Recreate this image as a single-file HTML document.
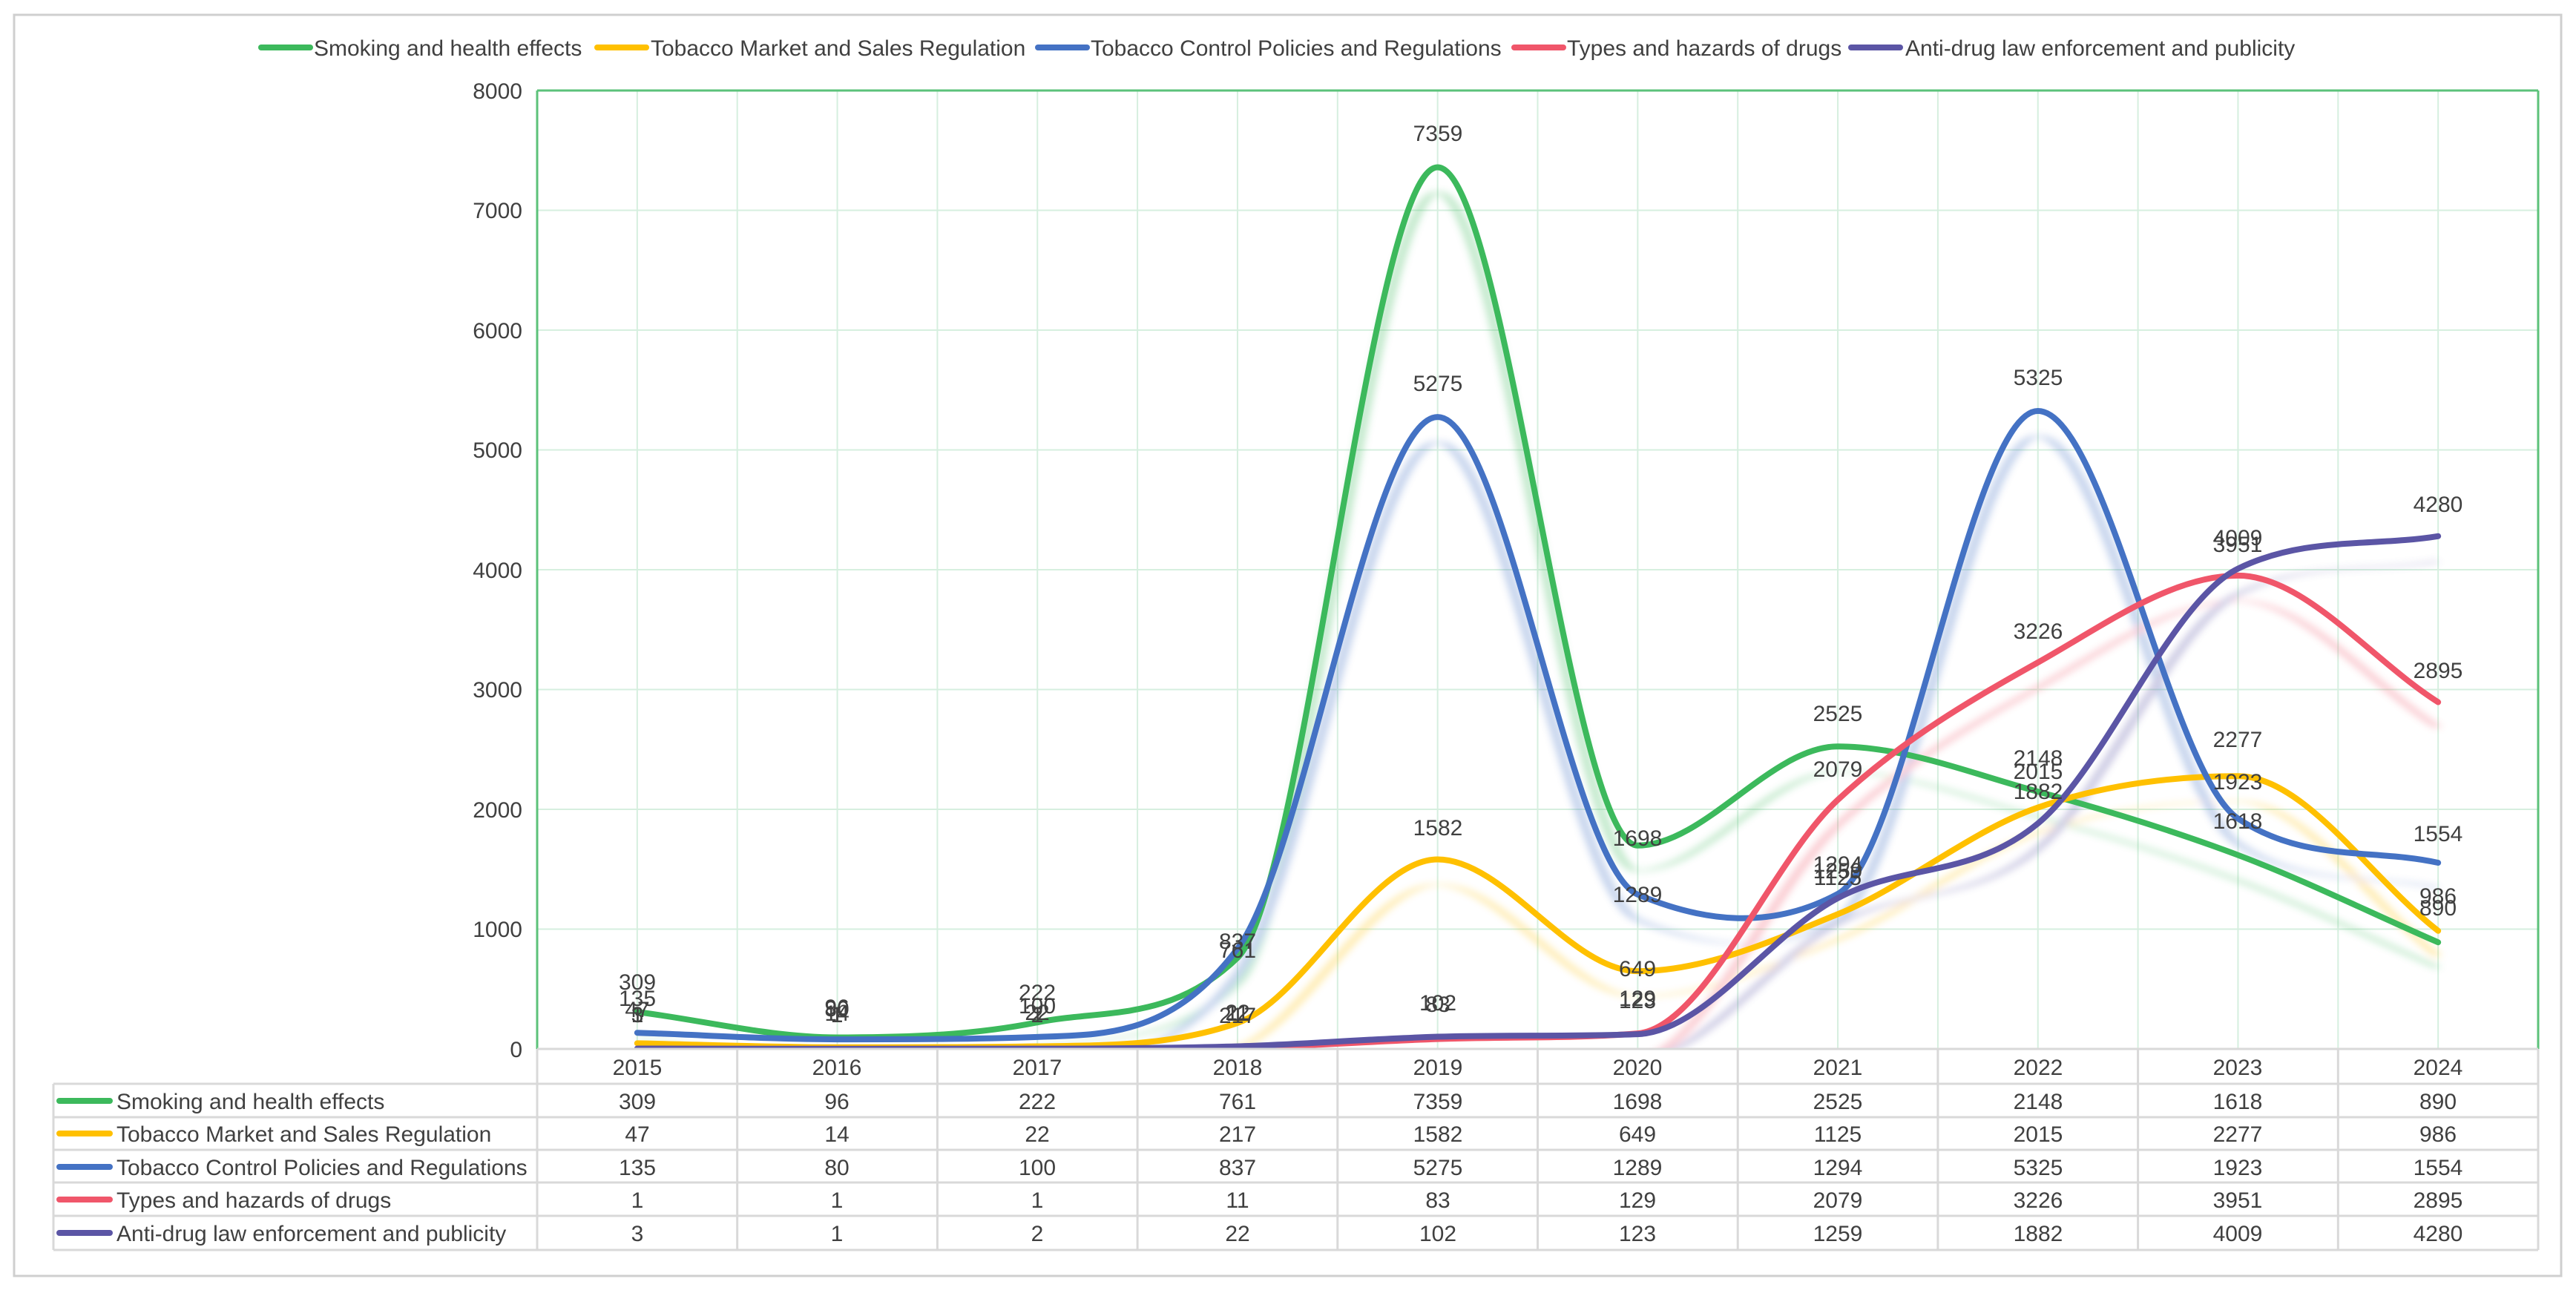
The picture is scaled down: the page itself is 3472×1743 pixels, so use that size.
<!DOCTYPE html>
<html><head><meta charset="utf-8">
<style>
html,body{margin:0;padding:0;background:#fff;}
svg{display:block;font-family:"Liberation Sans","Noto Sans CJK SC",sans-serif;}
</style></head>
<body>
<svg width="3472" height="1743" viewBox="0 0 3472 1743" xmlns="http://www.w3.org/2000/svg">
<defs>
<clipPath id="pc"><rect x="724" y="122" width="2697" height="1293"/></clipPath>
<filter id="bl" x="-5%" y="-5%" width="110%" height="110%"><feGaussianBlur stdDeviation="5"/></filter>
<path id="pG" d="M858.85,309 C948.75,238 1038.65,96 1128.55,96 C1218.45,96 1308.35,111.2 1398.25,222 C1488.15,332.8 1578.05,222 1667.95,761 C1757.85,1300 1847.75,7359 1937.65,7359 C2027.55,7359 2117.45,1698 2207.35,1698 C2297.25,1698 2387.15,2525 2477.05,2525 C2566.95,2525 2656.85,2299.2 2746.75,2148 C2836.65,1996.8 2926.55,1827.7 3016.45,1618 C3106.35,1408.3 3196.25,1132.7 3286.15,890"/>
<path id="pY" d="M858.85,47 C948.75,36 1038.65,14 1128.55,14 C1218.45,14 1308.35,14 1398.25,22 C1488.15,30 1578.05,22 1667.95,217 C1757.85,412 1847.75,1582 1937.65,1582 C2027.55,1582 2117.45,649 2207.35,649 C2297.25,649 2387.15,897.3 2477.05,1125 C2566.95,1352.7 2656.85,1823 2746.75,2015 C2836.65,2207 2926.55,2277 3016.45,2277 C3106.35,2277 3196.25,1416.3 3286.15,986"/>
<path id="pB" d="M858.85,135 C948.75,116.7 1038.65,80 1128.55,80 C1218.45,80 1308.35,80 1398.25,100 C1488.15,120 1578.05,100 1667.95,837 C1757.85,1574 1847.75,5275 1937.65,5275 C2027.55,5275 2117.45,1522.3 2207.35,1289 C2297.25,1055.7 2387.15,994 2477.05,1294 C2566.95,1594 2656.85,5325 2746.75,5325 C2836.65,5325 2926.55,2292 3016.45,1923 C3106.35,1554 3196.25,1677 3286.15,1554"/>
<path id="pR" d="M858.85,1 C948.75,1 1038.65,1 1128.55,1 C1218.45,1 1308.35,1 1398.25,1 C1488.15,1 1578.05,1 1667.95,11 C1757.85,21 1847.75,63.3 1937.65,83 C2027.55,102.7 2117.45,83 2207.35,129 C2297.25,175 2387.15,1563 2477.05,2079 C2566.95,2595 2656.85,2914 2746.75,3226 C2836.65,3538 2926.55,3951 3016.45,3951 C3106.35,3951 3196.25,3247 3286.15,2895"/>
<path id="pP" d="M858.85,3 C948.75,2.3 1038.65,1 1128.55,1 C1218.45,1 1308.35,1 1398.25,2 C1488.15,3 1578.05,5.3 1667.95,22 C1757.85,38.7 1847.75,85.2 1937.65,102 C2027.55,118.8 2117.45,102 2207.35,123 C2297.25,144 2387.15,965.8 2477.05,1259 C2566.95,1552.2 2656.85,1423.7 2746.75,1882 C2836.65,2340.3 2926.55,3738 3016.45,4009 C3106.35,4280 3196.25,4189.7 3286.15,4280"/>
</defs>
<rect x="19" y="20" width="3433" height="1700" fill="#fff" stroke="#cfcfcf" stroke-width="3"/>
<g stroke="#d6efdf" stroke-width="2">
<line x1="858.85" y1="122" x2="858.85" y2="1414"/><line x1="993.7" y1="122" x2="993.7" y2="1414"/><line x1="1128.55" y1="122" x2="1128.55" y2="1414"/><line x1="1263.4" y1="122" x2="1263.4" y2="1414"/><line x1="1398.25" y1="122" x2="1398.25" y2="1414"/><line x1="1533.1" y1="122" x2="1533.1" y2="1414"/><line x1="1667.95" y1="122" x2="1667.95" y2="1414"/><line x1="1802.8" y1="122" x2="1802.8" y2="1414"/><line x1="1937.65" y1="122" x2="1937.65" y2="1414"/><line x1="2072.5" y1="122" x2="2072.5" y2="1414"/><line x1="2207.35" y1="122" x2="2207.35" y2="1414"/><line x1="2342.2" y1="122" x2="2342.2" y2="1414"/><line x1="2477.05" y1="122" x2="2477.05" y2="1414"/><line x1="2611.9" y1="122" x2="2611.9" y2="1414"/><line x1="2746.75" y1="122" x2="2746.75" y2="1414"/><line x1="2881.6" y1="122" x2="2881.6" y2="1414"/><line x1="3016.45" y1="122" x2="3016.45" y2="1414"/><line x1="3151.3" y1="122" x2="3151.3" y2="1414"/><line x1="3286.15" y1="122" x2="3286.15" y2="1414"/>
<line x1="724" y1="1252.5" x2="3421" y2="1252.5"/><line x1="724" y1="1091" x2="3421" y2="1091"/><line x1="724" y1="929.5" x2="3421" y2="929.5"/><line x1="724" y1="768" x2="3421" y2="768"/><line x1="724" y1="606.5" x2="3421" y2="606.5"/><line x1="724" y1="445" x2="3421" y2="445"/><line x1="724" y1="283.5" x2="3421" y2="283.5"/>
</g>
<g clip-path="url(#pc)">
<g filter="url(#bl)" opacity="0.3" fill="none" stroke-width="14">
<g transform="translate(0,1448) scale(1,-0.1615)">
<use href="#pG" stroke="#3cb95c"/>
<use href="#pY" stroke="#ffc000"/>
<use href="#pB" stroke="#4472c4"/>
<use href="#pR" stroke="#f0566a"/>
<use href="#pP" stroke="#5b55a5"/>
</g>
</g>
</g>
<g clip-path="url(#pc)" fill="none" stroke-linejoin="round" stroke-linecap="round">
<g transform="translate(0,1414) scale(1,-0.1615)">
<path d="M858.85,309 C948.75,238 1038.65,96 1128.55,96 C1218.45,96 1308.35,111.2 1398.25,222 C1488.15,332.8 1578.05,222 1667.95,761 C1757.85,1300 1847.75,7359 1937.65,7359 C2027.55,7359 2117.45,1698 2207.35,1698 C2297.25,1698 2387.15,2525 2477.05,2525 C2566.95,2525 2656.85,2299.2 2746.75,2148 C2836.65,1996.8 2926.55,1827.7 3016.45,1618 C3106.35,1408.3 3196.25,1132.7 3286.15,890" stroke="#3cb95c" stroke-width="8" vector-effect="non-scaling-stroke"/>
<path d="M858.85,47 C948.75,36 1038.65,14 1128.55,14 C1218.45,14 1308.35,14 1398.25,22 C1488.15,30 1578.05,22 1667.95,217 C1757.85,412 1847.75,1582 1937.65,1582 C2027.55,1582 2117.45,649 2207.35,649 C2297.25,649 2387.15,897.3 2477.05,1125 C2566.95,1352.7 2656.85,1823 2746.75,2015 C2836.65,2207 2926.55,2277 3016.45,2277 C3106.35,2277 3196.25,1416.3 3286.15,986" stroke="#ffc000" stroke-width="8" vector-effect="non-scaling-stroke"/>
<path d="M858.85,135 C948.75,116.7 1038.65,80 1128.55,80 C1218.45,80 1308.35,80 1398.25,100 C1488.15,120 1578.05,100 1667.95,837 C1757.85,1574 1847.75,5275 1937.65,5275 C2027.55,5275 2117.45,1522.3 2207.35,1289 C2297.25,1055.7 2387.15,994 2477.05,1294 C2566.95,1594 2656.85,5325 2746.75,5325 C2836.65,5325 2926.55,2292 3016.45,1923 C3106.35,1554 3196.25,1677 3286.15,1554" stroke="#4472c4" stroke-width="8" vector-effect="non-scaling-stroke"/>
<path d="M858.85,1 C948.75,1 1038.65,1 1128.55,1 C1218.45,1 1308.35,1 1398.25,1 C1488.15,1 1578.05,1 1667.95,11 C1757.85,21 1847.75,63.3 1937.65,83 C2027.55,102.7 2117.45,83 2207.35,129 C2297.25,175 2387.15,1563 2477.05,2079 C2566.95,2595 2656.85,2914 2746.75,3226 C2836.65,3538 2926.55,3951 3016.45,3951 C3106.35,3951 3196.25,3247 3286.15,2895" stroke="#f0566a" stroke-width="8" vector-effect="non-scaling-stroke"/>
<path d="M858.85,3 C948.75,2.3 1038.65,1 1128.55,1 C1218.45,1 1308.35,1 1398.25,2 C1488.15,3 1578.05,5.3 1667.95,22 C1757.85,38.7 1847.75,85.2 1937.65,102 C2027.55,118.8 2117.45,102 2207.35,123 C2297.25,144 2387.15,965.8 2477.05,1259 C2566.95,1552.2 2656.85,1423.7 2746.75,1882 C2836.65,2340.3 2926.55,3738 3016.45,4009 C3106.35,4280 3196.25,4189.7 3286.15,4280" stroke="#5b55a5" stroke-width="8" vector-effect="non-scaling-stroke"/>
</g>
</g>
<line x1="724" y1="122" x2="3421" y2="122" stroke="#5cc27a" stroke-width="3"/>
<line x1="724" y1="122" x2="724" y2="1415" stroke="#5cc27a" stroke-width="3"/>
<line x1="3421" y1="122" x2="3421" y2="1415" stroke="#5cc27a" stroke-width="3"/>
<g font-size="30" fill="#404040" text-anchor="end">
<text x="704" y="133">8000</text><text x="704" y="294">7000</text><text x="704" y="456">6000</text>
<text x="704" y="617">5000</text><text x="704" y="779">4000</text><text x="704" y="940">3000</text>
<text x="704" y="1102">2000</text><text x="704" y="1263">1000</text><text x="704" y="1425">0</text>
</g>
<g stroke-width="8" stroke-linecap="round">
<line x1="352" y1="64" x2="418" y2="64" stroke="#3cb95c"/>
<line x1="805" y1="64" x2="871" y2="64" stroke="#ffc000"/>
<line x1="1399" y1="64" x2="1465" y2="64" stroke="#4472c4"/>
<line x1="2041" y1="64" x2="2107" y2="64" stroke="#f0566a"/>
<line x1="2495" y1="64" x2="2561" y2="64" stroke="#5b55a5"/>
</g>
<g font-size="30" fill="#404040">
<text x="423" y="75">Smoking and health effects</text>
<text x="877" y="75">Tobacco Market and Sales Regulation</text>
<text x="1470" y="75">Tobacco Control Policies and Regulations</text>
<text x="2112" y="75">Types and hazards of drugs</text>
<text x="2568" y="75">Anti-drug law enforcement and publicity</text>
</g>
<g stroke="#d9d9d9" stroke-width="3">
<line x1="724" y1="1414" x2="3421" y2="1414"/>
<line x1="72" y1="1461" x2="3421" y2="1461"/><line x1="72" y1="1506" x2="3421" y2="1506"/><line x1="72" y1="1550" x2="3421" y2="1550"/><line x1="72" y1="1594" x2="3421" y2="1594"/><line x1="72" y1="1639" x2="3421" y2="1639"/><line x1="72" y1="1685" x2="3421" y2="1685"/>
<line x1="72" y1="1461" x2="72" y2="1685"/>
<line x1="724" y1="1414" x2="724" y2="1685"/><line x1="993.7" y1="1414" x2="993.7" y2="1685"/><line x1="1263.4" y1="1414" x2="1263.4" y2="1685"/><line x1="1533.1" y1="1414" x2="1533.1" y2="1685"/><line x1="1802.8" y1="1414" x2="1802.8" y2="1685"/><line x1="2072.5" y1="1414" x2="2072.5" y2="1685"/><line x1="2342.2" y1="1414" x2="2342.2" y2="1685"/><line x1="2611.9" y1="1414" x2="2611.9" y2="1685"/><line x1="2881.6" y1="1414" x2="2881.6" y2="1685"/><line x1="3151.3" y1="1414" x2="3151.3" y2="1685"/><line x1="3421" y1="1414" x2="3421" y2="1685"/>
</g>
<g stroke-width="8" stroke-linecap="round">
<line x1="80" y1="1484" x2="148" y2="1484" stroke="#3cb95c"/>
<line x1="80" y1="1528" x2="148" y2="1528" stroke="#ffc000"/>
<line x1="80" y1="1573" x2="148" y2="1573" stroke="#4472c4"/>
<line x1="80" y1="1617" x2="148" y2="1617" stroke="#f0566a"/>
<line x1="80" y1="1662" x2="148" y2="1662" stroke="#5b55a5"/>
</g>
<g font-size="30" fill="#404040">
<text x="157" y="1495">Smoking and health effects</text>
<text x="157" y="1539">Tobacco Market and Sales Regulation</text>
<text x="157" y="1584">Tobacco Control Policies and Regulations</text>
<text x="157" y="1628">Types and hazards of drugs</text>
<text x="157" y="1673">Anti-drug law enforcement and publicity</text>
</g>
<g font-size="30" fill="#404040" text-anchor="middle">
<text x="859" y="1449">2015</text><text x="1128" y="1449">2016</text><text x="1398" y="1449">2017</text><text x="1668" y="1449">2018</text><text x="1938" y="1449">2019</text><text x="2207" y="1449">2020</text><text x="2477" y="1449">2021</text><text x="2747" y="1449">2022</text><text x="3016" y="1449">2023</text><text x="3286" y="1449">2024</text>
<text x="859" y="1495">309</text><text x="1128" y="1495">96</text><text x="1398" y="1495">222</text><text x="1668" y="1495">761</text><text x="1938" y="1495">7359</text><text x="2207" y="1495">1698</text><text x="2477" y="1495">2525</text><text x="2747" y="1495">2148</text><text x="3016" y="1495">1618</text><text x="3286" y="1495">890</text>
<text x="859" y="1539">47</text><text x="1128" y="1539">14</text><text x="1398" y="1539">22</text><text x="1668" y="1539">217</text><text x="1938" y="1539">1582</text><text x="2207" y="1539">649</text><text x="2477" y="1539">1125</text><text x="2747" y="1539">2015</text><text x="3016" y="1539">2277</text><text x="3286" y="1539">986</text>
<text x="859" y="1584">135</text><text x="1128" y="1584">80</text><text x="1398" y="1584">100</text><text x="1668" y="1584">837</text><text x="1938" y="1584">5275</text><text x="2207" y="1584">1289</text><text x="2477" y="1584">1294</text><text x="2747" y="1584">5325</text><text x="3016" y="1584">1923</text><text x="3286" y="1584">1554</text>
<text x="859" y="1628">1</text><text x="1128" y="1628">1</text><text x="1398" y="1628">1</text><text x="1668" y="1628">11</text><text x="1938" y="1628">83</text><text x="2207" y="1628">129</text><text x="2477" y="1628">2079</text><text x="2747" y="1628">3226</text><text x="3016" y="1628">3951</text><text x="3286" y="1628">2895</text>
<text x="859" y="1673">3</text><text x="1128" y="1673">1</text><text x="1398" y="1673">2</text><text x="1668" y="1673">22</text><text x="1938" y="1673">102</text><text x="2207" y="1673">123</text><text x="2477" y="1673">1259</text><text x="2747" y="1673">1882</text><text x="3016" y="1673">4009</text><text x="3286" y="1673">4280</text>
</g>
<g font-size="30" fill="#404040" text-anchor="middle">
<text x="859" y="1334">309</text><text x="1128" y="1368">96</text><text x="1398" y="1348">222</text><text x="1668" y="1291">761</text><text x="1938" y="190">7359</text><text x="2207" y="1140">1698</text><text x="2477" y="972">2525</text><text x="2747" y="1032">2148</text><text x="3016" y="1117">1618</text><text x="3286" y="1234">890</text>
<text x="859" y="1371">47</text><text x="1128" y="1376">14</text><text x="1398" y="1375">22</text><text x="1668" y="1379">217</text><text x="1938" y="1126">1582</text><text x="2207" y="1316">649</text><text x="2477" y="1193">1125</text><text x="2747" y="1050">2015</text><text x="3016" y="1007">2277</text><text x="3286" y="1218">986</text>
<text x="859" y="1356">135</text><text x="1128" y="1370">80</text><text x="1398" y="1366">100</text><text x="1668" y="1279">837</text><text x="1938" y="527">5275</text><text x="2207" y="1216">1289</text><text x="2477" y="1175">1294</text><text x="2747" y="519">5325</text><text x="3016" y="1064">1923</text><text x="3286" y="1134">1554</text>
<text x="859" y="1378">1</text><text x="1128" y="1378">1</text><text x="1398" y="1378">1</text><text x="1668" y="1376">11</text><text x="1938" y="1364">83</text><text x="2207" y="1356">129</text><text x="2477" y="1047">2079</text><text x="2747" y="861">3226</text><text x="3016" y="744">3951</text><text x="3286" y="914">2895</text>
<text x="859" y="1378">3</text><text x="1128" y="1378">1</text><text x="1398" y="1378">2</text><text x="1668" y="1375">22</text><text x="1938" y="1362">102</text><text x="2207" y="1359">123</text><text x="2477" y="1184">1259</text><text x="2747" y="1077">1882</text><text x="3016" y="735">4009</text><text x="3286" y="690">4280</text>
</g>
</svg>
</body></html>
